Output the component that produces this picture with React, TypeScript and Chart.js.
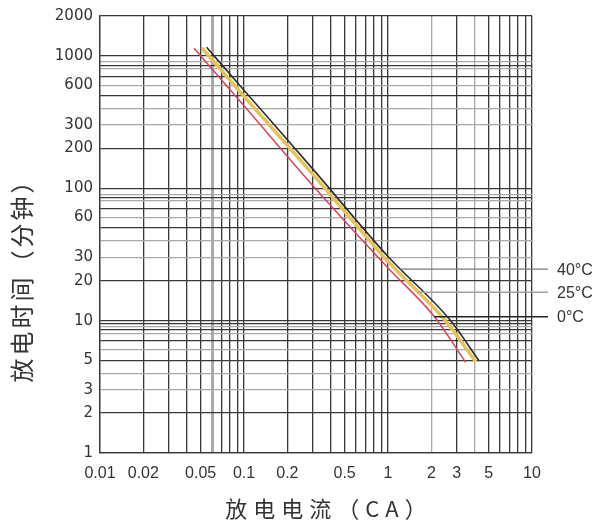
import React, { useEffect, useRef } from 'react';
import { Chart, registerables } from 'chart.js';

Chart.register(...registerables);

// Axis grid ticks (log-log paper)
const X_TICKS = [
  0.01, 0.02, 0.03, 0.04, 0.05, 0.06, 0.07, 0.08, 0.09,
  0.1, 0.2, 0.3, 0.4, 0.5, 0.6, 0.7, 0.8, 0.9,
  1, 2, 3, 4, 5, 6, 7, 8, 9, 10,
];
const X_LABELS = [0.01, 0.02, 0.05, 0.1, 0.2, 0.5, 1, 2, 3, 5, 10];
const X_LIGHT = [0.06, 2, 4];

const Y_TICKS = [
  1, 2, 3, 4, 5, 6, 7, 8, 8.5, 9, 9.5,
  10, 20, 30, 40, 50, 60, 70, 80, 85, 90,
  100, 200, 300, 400, 500, 600, 700, 800, 850, 900,
  1000, 2000,
];
const Y_LABELS = [1, 2, 3, 5, 10, 20, 30, 60, 100, 200, 300, 600, 1000, 2000];
const Y_LIGHT = [3, 4, 6, 8, 9, 30, 40, 60, 80, 90, 300, 400, 600, 800, 900];

// Series: discharge current (CA) vs discharge time (minutes)
const current40 = [0.055, 0.1, 0.3, 1, 2.7, 4.3];
const minutes40 = [1160, 550, 140, 30.5, 10.1, 4.95];
const current25 = [0.051, 0.1, 0.3, 1, 2.5, 4.06];
const minutes25 = [1150, 495, 128, 28, 10, 4.9];
const current0 = [0.045, 0.1, 0.3, 1, 2.1, 3.46];
const minutes0 = [1140, 420, 105, 25, 10.7, 4.85];

// Leader labels: text and the time value where each leader sits
const LEADER_TEXT = ['40°C', '25°C', '0°C'];
const LEADER_MINUTES = [24.5, 16.4, 10.7];
const LEADER_COLORS = ['#7a7a7a', '#a0a0a0', '#222222'];

const X_TITLE = '放电电流（CA）';
const Y_TITLE = '放电时间（分钟）';

const pts = (xs: number[], ys: number[]) => xs.map((x, i) => ({ x, y: ys[i] }));

function xAtY(xs: number[], ys: number[], yv: number): number {
  const ly = Math.log10(yv);
  for (let k = 0; k < ys.length - 1; k++) {
    const a = Math.log10(ys[k]);
    const b = Math.log10(ys[k + 1]);
    if ((ly <= a && ly >= b) || (ly >= a && ly <= b)) {
      const t = (ly - a) / (b - a);
      const lx = Math.log10(xs[k]) + t * (Math.log10(xs[k + 1]) - Math.log10(xs[k]));
      return Math.pow(10, lx);
    }
  }
  return xs[xs.length - 1];
}

const annotPlugin = {
  id: 'annot',
  afterDraw(chart: any) {
    const ctx = chart.ctx as CanvasRenderingContext2D;
    const { left, right, top, bottom } = chart.chartArea;
    const xs = chart.scales.x;
    const ys = chart.scales.y;
    const series = [
      [current40, minutes40],
      [current25, minutes25],
      [current0, minutes0],
    ];
    ctx.save();
    LEADER_TEXT.forEach((txt, i) => {
      const yv = LEADER_MINUTES[i];
      const py = ys.getPixelForValue(yv);
      const xv = xAtY(series[i][0], series[i][1], yv);
      const px = xs.getPixelForValue(xv);
      ctx.beginPath();
      ctx.strokeStyle = LEADER_COLORS[i];
      ctx.lineWidth = 1.4;
      ctx.moveTo(px, py);
      ctx.lineTo(right + 16, py);
      ctx.stroke();
      ctx.fillStyle = '#333';
      ctx.font = '16px "Liberation Sans", Arial, sans-serif';
      ctx.textAlign = 'left';
      ctx.textBaseline = 'middle';
      ctx.fillText(txt, right + 25, py + 1);
    });

    // axis titles
    ctx.fillStyle = '#333';
    ctx.textBaseline = 'middle';
    ctx.textAlign = 'center';
    (ctx as any).letterSpacing = '6px';
    ctx.font = '22px "Noto Sans CJK SC", sans-serif';
    ctx.fillText(X_TITLE, (left + right) / 2 + 13, bottom + 56);

    ctx.translate(22, (top + bottom) / 2 + 40);
    ctx.rotate(-Math.PI / 2);
    (ctx as any).letterSpacing = '3px';
    ctx.font = '24px "Noto Sans CJK SC", sans-serif';
    ctx.fillText(Y_TITLE, 0, 0);
    ctx.restore();
  },
};

export default function App() {
  const ref = useRef<HTMLCanvasElement | null>(null);
  useEffect(() => {
    if (!ref.current) return;
    const chart = new Chart(ref.current, {
      type: 'line',
      data: {
        datasets: [
          {
            label: '40°C',
            data: pts(current40, minutes40),
            borderColor: '#2e2e2e',
            borderWidth: 1.6,
            pointRadius: 0,
            cubicInterpolationMode: 'monotone',
          },
          {
            label: '0°C',
            data: pts(current0, minutes0),
            borderColor: '#d8455c',
            borderWidth: 1.5,
            pointRadius: 0,
            cubicInterpolationMode: 'monotone',
          },
          {
            label: '25°C',
            data: pts(current25, minutes25),
            borderColor: '#e6c25e',
            borderWidth: 3.5,
            pointRadius: 0,
            cubicInterpolationMode: 'monotone',
          },
        ],
      },
      options: {
        animation: false,
        responsive: false,
        parsing: false as any,
        layout: { padding: { left: 0, top: 16, right: 69, bottom: 0 } },
        plugins: {
          legend: { display: false },
          tooltip: { enabled: false },
        },
        scales: {
          x: {
            type: 'logarithmic',
            min: 0.01,
            max: 10,
            afterBuildTicks: (scale: any) => {
              scale.ticks = X_TICKS.map((v) => ({ value: v }));
            },
            afterFit: (scale: any) => {
              scale.height = 77;
            },
            ticks: {
              autoSkip: false,
              maxRotation: 0,
              minRotation: 0,
              padding: 11,
              color: '#333',
              font: { family: '"Liberation Sans", Arial, sans-serif', size: 16 },
              callback: (v: any) => (X_LABELS.includes(Number(v)) ? String(v) : ''),
            },
            grid: {
              drawTicks: false,
              color: (c: any) => (X_LIGHT.includes(c.tick?.value) ? '#a9a9a9' : '#383838'),
              lineWidth: (c: any) => (c.tick?.value === 0.06 ? 3 : 1.3),
            },
            border: { display: true, color: '#383838', width: 1.3 },
          },
          y: {
            type: 'logarithmic',
            min: 1,
            max: 2000,
            afterBuildTicks: (scale: any) => {
              scale.ticks = Y_TICKS.map((v) => ({ value: v }));
            },
            afterFit: (scale: any) => {
              scale.width = 100;
            },
            ticks: {
              autoSkip: false,
              padding: 7,
              color: '#333',
              font: { family: '"DejaVu Sans", sans-serif', size: 15 },
              callback: (v: any) => (Y_LABELS.includes(Number(v)) ? String(v) : ''),
            },
            grid: {
              drawTicks: false,
              color: (c: any) => (Y_LIGHT.includes(c.tick?.value) ? '#a9a9a9' : '#383838'),
              lineWidth: 1.3,
            },
            border: { display: true, color: '#383838', width: 1.3 },
          },
        },
      },
      plugins: [annotPlugin],
    });
    return () => chart.destroy();
  }, []);

  return (
    <div style={{ position: 'absolute', left: 0, top: 0, width: 601, height: 530, background: '#fff' }}>
      <canvas ref={ref} width={601} height={530} />
    </div>
  );
}
